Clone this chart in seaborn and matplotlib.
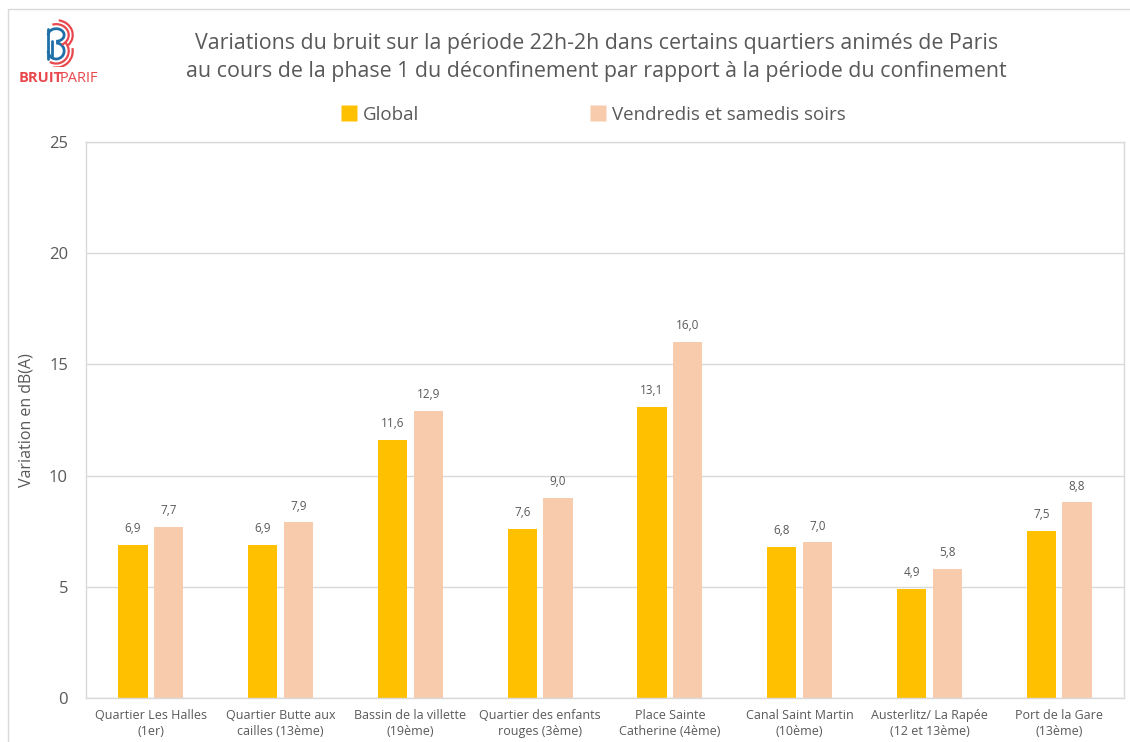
import matplotlib
matplotlib.use("Agg")
import matplotlib.pyplot as plt
from matplotlib.patches import Rectangle, Arc
from matplotlib.lines import Line2D
import seaborn as sns
import pandas as pd

# Data
quartiers = [
    "Quartier Les Halles\n(1er)",
    "Quartier Butte aux\ncailles (13ème)",
    "Bassin de la villette\n(19ème)",
    "Quartier des enfants\nrouges (3ème)",
    "Place Sainte\nCatherine (4ème)",
    "Canal Saint Martin\n(10ème)",
    "Austerlitz/ La Rapée\n(12 et 13ème)",
    "Port de la Gare\n(13ème)",
]
series_names = ["Global", "Vendredis et samedis soirs"]
global_values = [6.9, 6.9, 11.6, 7.6, 13.1, 6.8, 4.9, 7.5]
weekend_values = [7.7, 7.9, 12.9, 9.0, 16.0, 7.0, 5.8, 8.8]
y_ticks = [0, 5, 10, 15, 20, 25]

colors = {"Global": "#FFC000", "Vendredis et samedis soirs": "#F8CBAD"}
text_grey = "#595959"
grid_grey = "#D9D9D9"

df = pd.DataFrame({
    "quartier": quartiers * 2,
    "serie": [series_names[0]] * len(quartiers) + [series_names[1]] * len(quartiers),
    "valeur": global_values + weekend_values,
})

sns.set_theme(style="white")
plt.rcParams["font.family"] = ["Open Sans", "DejaVu Sans"]

fig = plt.figure(figsize=(11.3, 7.42), dpi=100)
ax = fig.add_axes([86 / 1130, 1 - 698 / 742, (1124 - 86) / 1130, (698 - 142) / 742])

sns.barplot(data=df, x="quartier", y="valeur", hue="serie", order=quartiers,
            hue_order=series_names, palette=colors, width=0.55, gap=0.18,
            saturation=1, legend=False, ax=ax, edgecolor="none")

# Value labels with comma decimal
for container in ax.containers:
    ax.bar_label(container, labels=[f"{v:.1f}".replace(".", ",") for v in container.datavalues],
                 padding=7, fontsize=8.5, color=text_grey)

ax.set_ylim(0, 25)
ax.set_yticks(y_ticks)
ax.set_xlim(-0.5, len(quartiers) - 0.5)
ax.yaxis.grid(True, color=grid_grey, linewidth=1)
ax.set_axisbelow(True)
for s in ax.spines.values():
    s.set_color(grid_grey)
    s.set_linewidth(1)
ax.tick_params(axis="y", length=0, pad=13, labelsize=12, labelcolor=text_grey)
ax.tick_params(axis="x", length=0, pad=8, labelsize=9, labelcolor=text_grey)
for lbl in ax.get_xticklabels():
    lbl.set_linespacing(1.3)
ax.set_xlabel("")
ax.set_ylabel("Variation en dB(A)", fontsize=11.5, color=text_grey, labelpad=10)

# Title
fig.text(0.528, 1 - 43 / 742, "Variations du bruit sur la période 22h-2h dans certains quartiers animés de Paris",
         ha="center", va="center", fontsize=15.4, color=text_grey)
fig.text(0.528, 1 - 72 / 742, "au cours de la phase 1 du déconfinement par rapport à la période du confinement",
         ha="center", va="center", fontsize=15.4, color=text_grey)

# Legend
handles = [Line2D([], [], marker="s", linestyle="none", markersize=11,
                  markerfacecolor=colors[n], markeredgecolor="none") for n in series_names]
fig.legend(handles, series_names, loc="center", bbox_to_anchor=(0.5253, 1 - 115 / 742),
           ncol=2, frameon=False, fontsize=13.5, labelcolor=text_grey,
           columnspacing=9.1, handletextpad=0.35, handlelength=0.8)

# Outer frame
fig.patches.append(Rectangle((8 / 1130, -0.1), 1.2, 1 - 9 / 742 + 0.1, transform=fig.transFigure,
                             fill=False, edgecolor=grid_grey, linewidth=1))

# Logo
lax = fig.add_axes([30 / 1130, 1 - 67 / 742, 50 / 1130, 48 / 742])
lax.set_xlim(-1, 1)
lax.set_ylim(-1.05, 1.05)
lax.set_aspect("equal")
lax.axis("off")
blue = "#1F6FA8"
red = "#E8474C"
lax.plot([-0.3, -0.3], [-0.7, 0.6], color=blue, lw=2)
lax.plot([-0.12, -0.12], [-0.55, 0.1], color=blue, lw=2)
lax.add_patch(Arc((0.05, 0.35), 0.7, 0.55, theta1=-90, theta2=180, color=blue, lw=2))
lax.add_patch(Arc((0.05, -0.35), 0.7, 0.7, theta1=-180, theta2=90, color=blue, lw=2))
lax.add_patch(Arc((0.05, 0.35), 1.1, 0.95, theta1=-60, theta2=110, color=red, lw=1.6))
lax.add_patch(Arc((0.05, -0.35), 1.1, 1.1, theta1=-120, theta2=40, color=red, lw=1.6))
lax.add_patch(Arc((0.05, 0.35), 1.45, 1.3, theta1=-40, theta2=80, color=red, lw=1.6))
lax.add_patch(Arc((0.05, -0.35), 1.45, 1.45, theta1=-100, theta2=10, color=red, lw=1.6))

fig.text(19 / 1130, 1 - 78 / 742, "BRUIT", ha="left", va="center", fontsize=10.5,
         fontweight="bold", color=red)
fig.text(60 / 1130, 1 - 78 / 742, "PARIF", ha="left", va="center", fontsize=10.5, color=red)

fig.savefig("out.png", dpi=100)
